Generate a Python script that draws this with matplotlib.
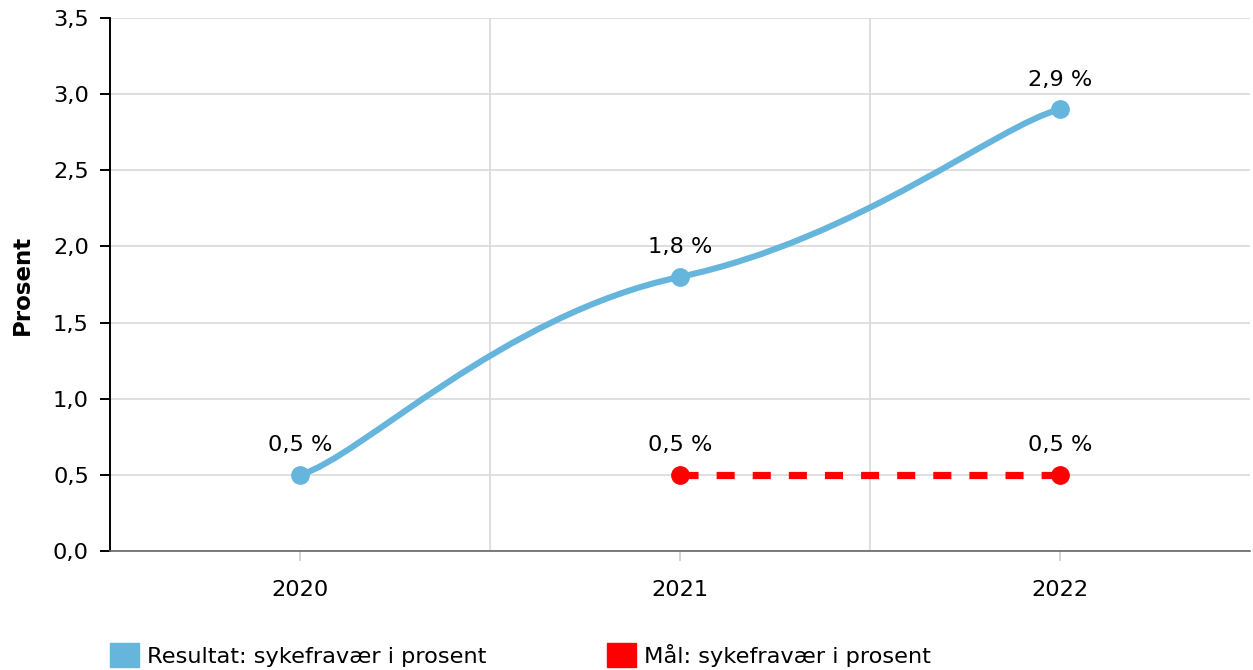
import matplotlib.pyplot as plt
from matplotlib.path import Path
from matplotlib.patches import PathPatch, Patch
import numpy as np

plt.rcParams['font.family'] = ['DejaVu Sans']
plt.rcParams['lines.scale_dashes'] = False

# data
years = ['2020', '2021', '2022']
resultat = [0.5, 1.8, 2.9]          # Resultat: sykefravær i prosent
maal_years = ['2021', '2022']
maal = [0.5, 0.5]                   # Mål: sykefravær i prosent
y_ticks = [0.0, 0.5, 1.0, 1.5, 2.0, 2.5, 3.0, 3.5]

blue = '#66b5dc'
red = '#ff0000'
grid_c = '#d9d9d9'


def fmt(v):
    return f'{v:.1f}'.replace('.', ',')


def spline_path(xs, ys, inner=0.47, outer=0.16, k_in=0.44, k_out=0.55):
    # smooth bezier through the points (chart "spline" look)
    n = len(xs)
    slopes = []
    for i in range(n):
        if i == 0:
            slopes.append(k_out * (ys[1] - ys[0]) / (xs[1] - xs[0]))
        elif i == n - 1:
            slopes.append(k_out * (ys[-1] - ys[-2]) / (xs[-1] - xs[-2]))
        else:
            slopes.append(k_in * (ys[i + 1] - ys[i - 1]) / (xs[i + 1] - xs[i - 1]))
    verts = [(xs[0], ys[0])]
    codes = [Path.MOVETO]
    for i in range(n - 1):
        dx = xs[i + 1] - xs[i]
        h0 = outer if i == 0 else inner
        h1 = outer if i + 1 == n - 1 else inner
        verts += [(xs[i] + h0 * dx, ys[i] + h0 * dx * slopes[i]),
                  (xs[i + 1] - h1 * dx, ys[i + 1] - h1 * dx * slopes[i + 1]),
                  (xs[i + 1], ys[i + 1])]
        codes += [Path.CURVE4] * 3
    return Path(verts, codes)


fig = plt.figure(figsize=(12.53, 6.70), dpi=100)
ax = fig.add_axes([110 / 1253, 1 - 551 / 670, 1140 / 1253, 533 / 670])

x_res = np.array([years.index(y) for y in years], dtype=float)
x_maal = np.array([years.index(y) for y in maal_years], dtype=float)

# blue spline
ax.add_patch(PathPatch(spline_path(x_res, resultat), fill=False, edgecolor=blue,
                       lw=4.4, capstyle='round', joinstyle='round', zorder=3))
ax.plot(x_res, resultat, 'o', color=blue, markersize=12.5, zorder=4)

# red dashed target
ax.plot(x_maal, maal, color=red, lw=5.2, dashes=(13, 13), solid_capstyle='butt',
        dash_capstyle='butt', zorder=3)
ax.plot(x_maal, maal, 'o', color=red, markersize=12.5, zorder=4)

# data labels
fs = 16.2
for x, v in zip(x_res, resultat):
    ax.annotate(fmt(v) + ' %', (x, v), xytext=(0, 21.5), textcoords='offset points',
                ha='center', va='center', fontsize=fs, zorder=5)
for x, v in zip(x_maal, maal):
    ax.annotate(fmt(v) + ' %', (x, v), xytext=(0, 21.5), textcoords='offset points',
                ha='center', va='center', fontsize=fs, zorder=5)

ax.set_xlim(-0.5, 2.5)
ax.set_ylim(0, 3.5)
ax.set_xticks(range(len(years)))
ax.set_xticklabels(years)
ax.set_xticks([0.5, 1.5], minor=True)
ax.set_yticks(y_ticks)
ax.set_yticklabels([fmt(v) for v in y_ticks])

ax.grid(axis='y', color=grid_c, lw=1.2)
ax.grid(axis='x', which='minor', color=grid_c, lw=1.2)
ax.set_axisbelow(True)

for s in ['top', 'right']:
    ax.spines[s].set_visible(False)
ax.spines['left'].set_color('black')
ax.spines['left'].set_linewidth(1.4)
ax.spines['bottom'].set_color('#666666')
ax.spines['bottom'].set_linewidth(1.2)

ax.tick_params(axis='y', length=7.2, width=1.4, color='black', pad=8, labelsize=fs)
ax.tick_params(axis='x', which='major', length=7.2, width=1.2, color='#cccccc', pad=14, labelsize=fs)
ax.tick_params(axis='x', which='minor', length=0)

ax.set_ylabel('Prosent', fontsize=16.5, fontweight='bold', labelpad=14)

handles = [Patch(facecolor=blue, edgecolor=blue), Patch(facecolor=red, edgecolor=red)]
labels = ['Resultat: sykefravær i prosent', 'Mål: sykefravær i prosent']
fig.legend(handles, labels, loc='center left', bbox_to_anchor=(110 / 1253, 1 - 655 / 670),
           ncol=2, frameon=False, fontsize=fs, handlelength=1.3, handleheight=1.25,
           handletextpad=0.35, columnspacing=5.35, borderpad=0, borderaxespad=0)

fig.savefig('out.png', dpi=100)
